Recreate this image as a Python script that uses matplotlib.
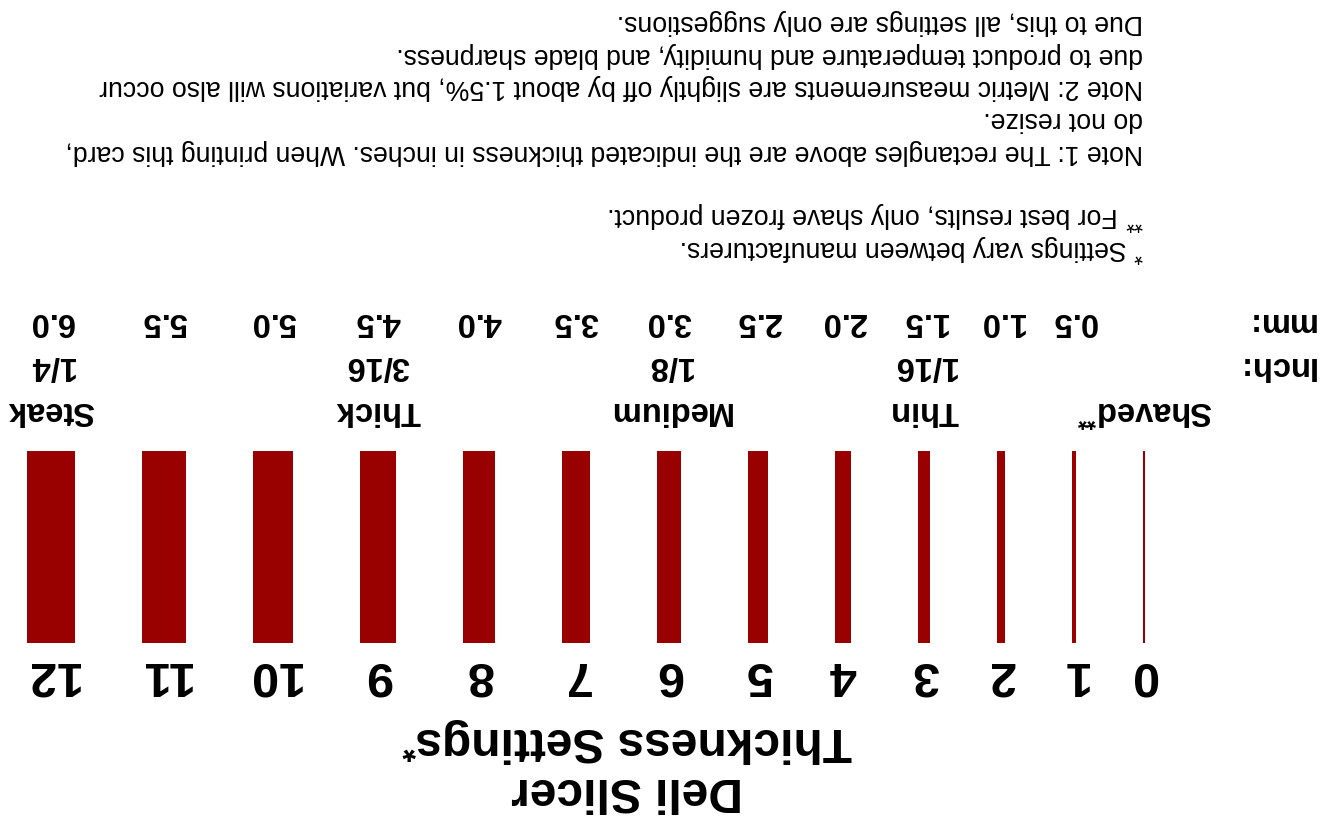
import matplotlib
matplotlib.use("Agg")
import matplotlib.pyplot as plt

# ---------------- data ----------------
settings = list(range(13))
mm_labels = ["", "0.5", "1.0", "1.5", "2.0", "2.5", "3.0", "3.5", "4.0", "4.5", "5.0", "5.5", "6.0"]
inch_labels = ["", "", "", "1/16", "", "", "1/8", "", "", "3/16", "", "", "1/4"]
category_labels = ["Shaved", "", "", "Thin", "", "", "Medium", "", "", "Thick", "", "", "Steak"]
category_marks = ["**", "", "", "", "", "", "", "", "", "", "", "", ""]
title_lines = ["Deli Slicer", "Thickness Settings"]
title_mark = "*"
footnotes = [("*", "Settings vary between manufacturers."),
             ("**", "For best results, only shave frozen product.")]
note1 = ["Note 1: The rectangles above are the indicated thickness in inches. When printing this card,",
         "do not resize."]
note2 = ["Note 2: Metric measurements are slightly off by about 1.5%, but variations will also occur",
         "due to product temperature and humidity, and blade sharpness.",
         "Due to this, all settings are only suggestions."]

# ---------------- style ----------------
W, H = 1335, 819
BAR_COLOR = "#990000"
PX_PER_STEP = 4      # bar width per setting step (1/48 inch at 192 px/inch)
MIN_W = 2
GAP = 67
START_U = 190
FONT = "Liberation Sans"

fig = plt.figure(figsize=(W / 100, H / 100), dpi=100)
ax = fig.add_axes([0, 0, 1, 1])
# The whole card is shown upside down: invert both directions
ax.set_xlim(W, 0)
ax.set_ylim(0, H)
ax.axis("off")
renderer = fig.canvas.get_renderer()


def put(u, v, s, size, weight="normal", ha="left", va="baseline"):
    return ax.text(u, v, s, fontsize=size, fontweight=weight, rotation=180,
                   rotation_mode="anchor", ha=ha, va=va, family=FONT, color="black")


def width_of(s, size, weight):
    t = put(0, 0, s, size, weight)
    w = t.get_window_extent(renderer).width
    t.remove()
    return w


def put_sup(u, v, s, sup, size, weight="normal", center=False, ratio=0.75, raise_em=0.25):
    sup_size = size * ratio
    w_main = width_of(s, size, weight) if s else 0
    w_sup = width_of(sup, sup_size, weight) if sup else 0
    start = u - (w_main + w_sup) / 2 if center else u
    if s:
        put(start, v, s, size, weight)
    if sup:
        put(start + w_main, v - size * 1.39 * raise_em, sup, sup_size, weight)
    return w_main + w_sup


# bars
widths = [max(s * PX_PER_STEP, MIN_W) for s in settings]
lefts = []
pos = START_U
for w in widths:
    lefts.append(pos)
    pos += w + GAP
centers = [l + w / 2 for l, w in zip(lefts, widths)]
ax.bar(lefts, [192] * len(settings), width=widths, bottom=176, align="edge",
       color=BAR_COLOR, linewidth=0)

# title
title_u = 708
put(title_u, 41, title_lines[0], 34.5, "bold", ha="center")
put_sup(title_u, 91, title_lines[1], title_mark, 34.5, "bold", center=True,
        ratio=0.72, raise_em=0.2)

# setting numbers
for c, s in zip(centers, settings):
    put(c, 157, str(s), 35, "bold", ha="center")

# category labels
for c, lab, mk in zip(centers, category_labels, category_marks):
    if lab:
        put_sup(c, 417, lab, mk, 23.5, "bold", center=True, ratio=0.75, raise_em=0.3)

# inch row
put(20, 462, "Inch:", 23.5, "bold")
for c, lab in zip(centers, inch_labels):
    if lab:
        put(c, 462, lab, 23.5, "bold", ha="center")

# mm row
put(20, 506, "mm:", 23.5, "bold")
for c, lab in zip(centers, mm_labels):
    if lab:
        put(c, 506, lab, 23.5, "bold", ha="center")

# footnotes and notes
NOTE_U = 192
NOTE_SIZE = 19.2
LINE = 32.5
v = 578
for mk, txt in footnotes:
    w_mk = put_sup(NOTE_U, v, "", mk, NOTE_SIZE, ratio=0.85, raise_em=0.22)
    put(NOTE_U + w_mk, v, " " + txt, NOTE_SIZE)
    v += LINE
v = 674
for line in note1:
    put(NOTE_U, v, line, NOTE_SIZE)
    v += LINE
for line in note2:
    put(NOTE_U, v, line, NOTE_SIZE)
    v += LINE

fig.savefig("out.png", dpi=100, facecolor="white")
